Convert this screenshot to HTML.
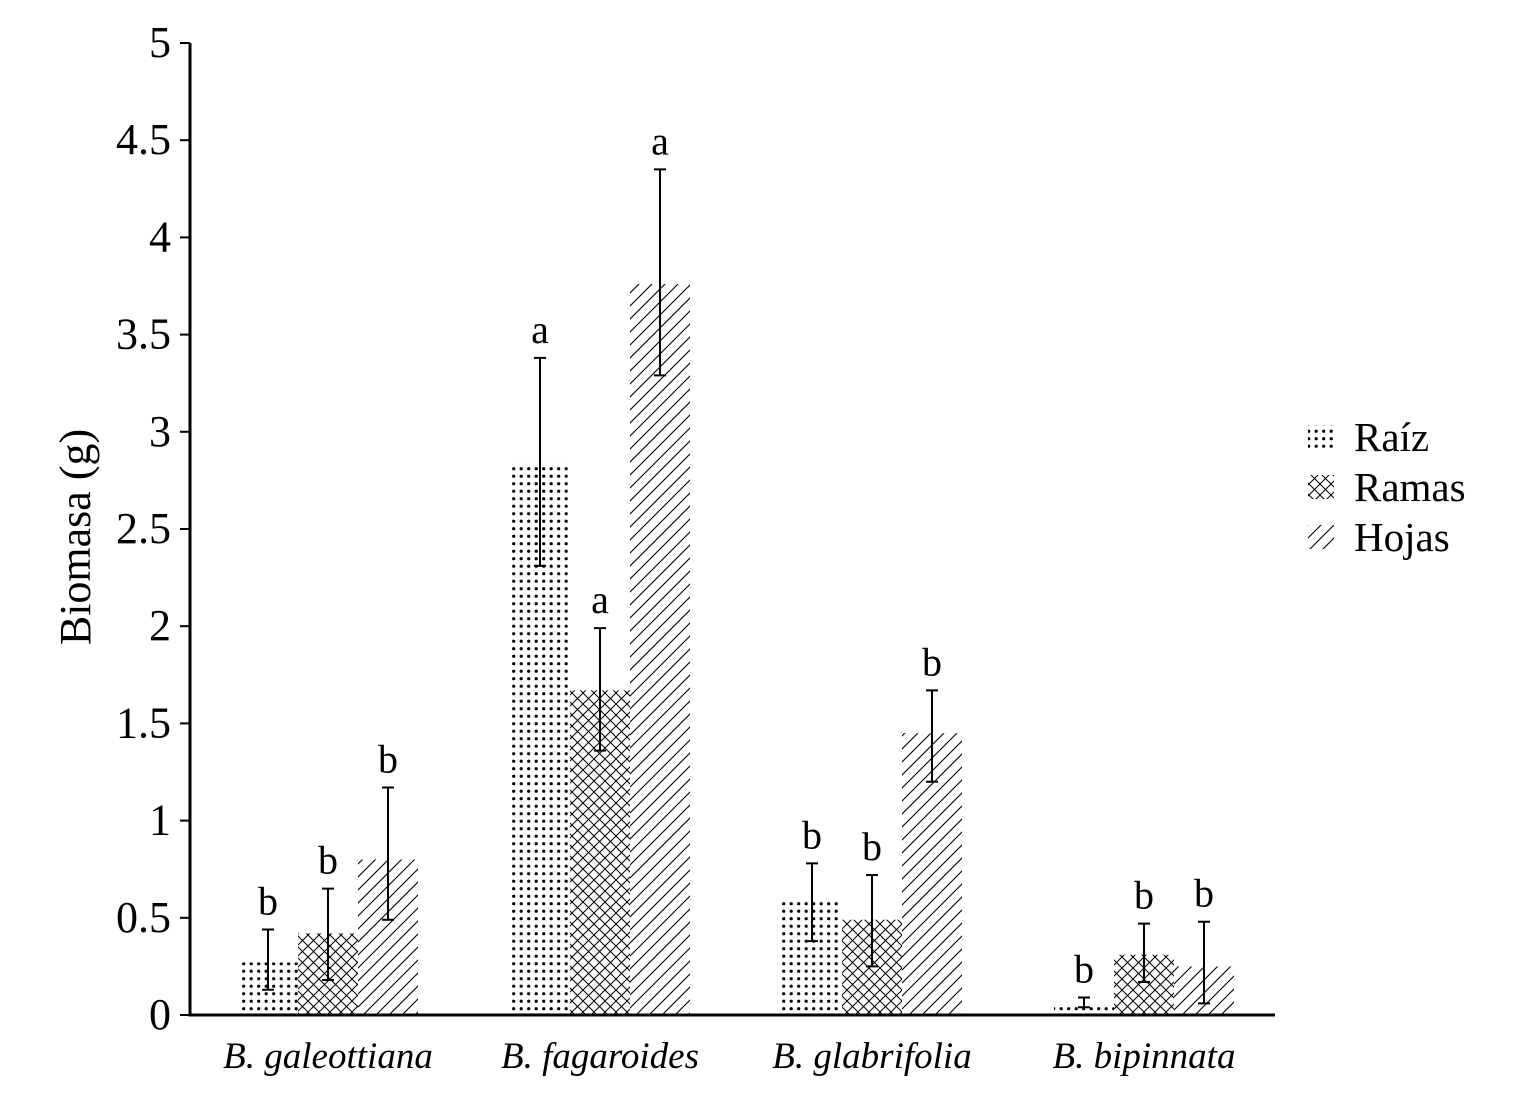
<!DOCTYPE html>
<html><head><meta charset="utf-8"><style>
body{margin:0;background:#fff}
svg{display:block;font-family:"Liberation Serif",serif}
</style></head><body>
<svg id="chart" width="1530" height="1099">
<defs>
<pattern id="dots" width="7.5" height="7.5" patternUnits="userSpaceOnUse"><circle cx="3.7" cy="3.7" r="1.6" fill="#000"/></pattern>
<pattern id="cross" width="11" height="11" patternUnits="userSpaceOnUse"><path d="M0,0L11,11M11,0L0,11M-1,10L1,12M10,-1L12,1" stroke="#000" stroke-width="1"/></pattern>
<pattern id="diag" width="13" height="13" patternUnits="userSpaceOnUse"><path d="M0,13L13,0M-2,2L2,-2M11,15L15,11" stroke="#000" stroke-width="1.1"/></pattern>
</defs>
<g id="plot"></g>
</svg>
<script>
const categories=["B. galeottiana","B. fagaroides","B. glabrifolia","B. bipinnata"];
const seriesNames=["Raíz","Ramas","Hojas"];
const raiz=[0.27,2.84,0.59,0.06];
const ramas=[0.42,1.67,0.49,0.31];
const hojas=[0.80,3.76,1.45,0.25];
const raizLow=[0.13,2.31,0.38,0.04], raizHigh=[0.44,3.38,0.78,0.09];
const ramasLow=[0.18,1.36,0.25,0.17], ramasHigh=[0.65,1.99,0.72,0.47];
const hojasLow=[0.49,3.29,1.20,0.06], hojasHigh=[1.17,4.35,1.67,0.48];
const raizLetters=["b","a","b","b"], ramasLetters=["b","a","b","b"], hojasLetters=["b","a","b","b"];
const yTicks=["0","0.5","1","1.5","2","2.5","3","3.5","4","4.5","5"];

const NS="http://www.w3.org/2000/svg";
const g=document.getElementById('plot');
const y=v=>1015-v*194.4;
const groupX=i=>238+i*272;
const barW=60;
function mk(t,a,txt){const e=document.createElementNS(NS,t);for(const k in a)e.setAttribute(k,a[k]);if(txt!==undefined)e.textContent=txt;g.appendChild(e);return e;}
const series=[[raiz,raizLow,raizHigh,raizLetters,'url(#dots)'],[ramas,ramasLow,ramasHigh,ramasLetters,'url(#cross)'],[hojas,hojasLow,hojasHigh,hojasLetters,'url(#diag)']];
series.forEach((s,si)=>{
 s[0].forEach((v,i)=>{
  const x0=groupX(i)+si*barW, cx=x0+barW/2;
  const r=mk('rect',{x:x0,y:y(v),width:barW,height:y(0)-y(v),fill:s[4]});
  
  
  const e=mk('path',{d:`M${cx},${y(s[1][i])}V${y(s[2][i])}M${cx-6},${y(s[1][i])}H${cx+6}M${cx-6},${y(s[2][i])}H${cx+6}`,stroke:'#000','stroke-width':2,fill:'none'});
  
  
  const t=mk('text',{x:cx,y:y(s[2][i])-15,'font-size':40,'text-anchor':'middle'},s[3][i]);
  
  
 });
});
const ax=mk('path',{d:'M190,43V1015H1275',stroke:'#000','stroke-width':3,fill:'none'});


yTicks.forEach((t,i)=>{
 const v=parseFloat(t);
 const tk=mk('line',{x1:180,x2:190,y1:y(v),y2:y(v),stroke:'#000','stroke-width':2});
 
 
 const l=mk('text',{x:171,y:y(v)+14,'font-size':44,'text-anchor':'end'},t);
 
 
});
categories.forEach((c,i)=>{
 const l=mk('text',{x:groupX(i)+90,y:1068,'font-size':37,'font-style':'italic','text-anchor':'middle'},c);
 
 
});
const yt=mk('text',{x:0,y:0,'font-size':44,'text-anchor':'middle',transform:'translate(90,537) rotate(-90)'},'Biomasa (g)');


['url(#dots)','url(#cross)','url(#diag)'].forEach((f,i)=>{
 const sw=mk('rect',{x:1308,y:425+i*50,width:26,height:24,fill:f});
 
 
 const t=mk('text',{x:1354,y:451+i*50,'font-size':41},seriesNames[i]);
 
 
});
</script>
</body></html>
